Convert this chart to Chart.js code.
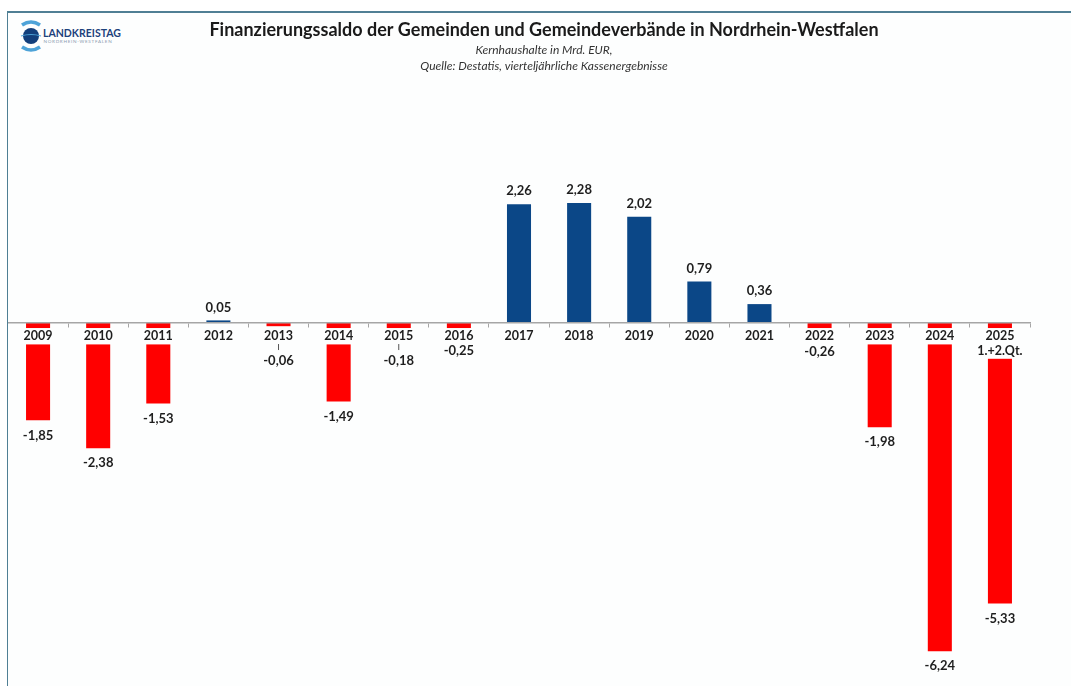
<!DOCTYPE html>
<html lang="de">
<head>
<meta charset="utf-8">
<title>Finanzierungssaldo NRW</title>
<script src="https://cdn.jsdelivr.net/npm/chart.js@4/dist/chart.umd.min.js"></script>
<style>
  html, body { margin: 0; padding: 0; background: #fff; overflow: hidden; width: 1071px; height: 686px; }
  .frame { position: absolute; left: 7px; top: 11px; width: 1100px; height: 700px;
           border-top: 2px solid #4f7f94; border-left: 1.5px solid #4f7f94; background: #fdfefe; }
  .wrap { position: absolute; left: 8px; top: 12px; width: 1072px; height: 674px; }
  .logo { position: absolute; left: 18px; top: 19px; }
</style>
</head>
<body>
<div class="frame"></div>
<svg class="logo" width="112" height="34" viewBox="0 0 112 34">
  <path d="M4 6 Q13 0 22 6" stroke="#4ea3d8" stroke-width="3.5" fill="none"/>
  <circle cx="13" cy="17" r="8" fill="#123f7c"/>
  <path d="M3 17 Q13 14 23 17" stroke="#4ea3d8" stroke-width="1.2" fill="none"/>
  <path d="M4 28 Q13 34 22 28" stroke="#4ea3d8" stroke-width="3.5" fill="none"/>
  <text x="25" y="18" font-family="Lato, 'Liberation Sans', sans-serif" font-weight="bold" font-size="10.5" fill="#1d427c">LANDKREISTAG</text>
  <text x="25.5" y="24" font-family="Lato, 'Liberation Sans', sans-serif" font-size="4.6" letter-spacing="0.7" fill="#8a9ab0">NORDRHEIN-WESTFALEN</text>
</svg>
<div class="wrap"><canvas id="chart"></canvas></div>
<script>
  // ── Data ───────────────────────────────────────────────
  const years = ['2009', '2010', '2011', '2012', '2013', '2014', '2015', '2016', '2017',
                 '2018', '2019', '2020', '2021', '2022', '2023', '2024', ['2025', '1.+2.Qt.']];
  const saldo = [-1.85, -2.38, -1.53, 0.05, -0.06, -1.49, -0.18, -0.25, 2.26,
                 2.28, 2.02, 0.79, 0.36, -0.26, -1.98, -6.24, -5.33];
  const yMin = -6.9;
  const yMax = 4.24;

  const RED = '#ff0000';
  const BLUE = '#0b4787';
  const FONT = 'Lato, "Liberation Sans", sans-serif';
  const TICK_SIZE = 12.5;
  const TICK_LH = 1.15;
  const TICK_LEN = 4;
  const TICK_PAD = 2;

  // ── White gaps behind the year labels (bars pass under them) ──
  const labelGaps = {
    id: 'labelGaps',
    afterDatasetsDraw(chart) {
      const ctx = chart.ctx;
      const xs = chart.scales.x;
      const zero = chart.scales.y.getPixelForValue(0);
      const lh = TICK_SIZE * TICK_LH;
      ctx.save();
      ctx.font = 'bold ' + TICK_SIZE + 'px ' + FONT;
      ctx.fillStyle = '#fdfefe';
      years.forEach((lbl, i) => {
        const lines = Array.isArray(lbl) ? lbl : [lbl];
        const w = Math.max(...lines.map(l => ctx.measureText(l).width)) + 6;
        const top = zero + TICK_LEN + TICK_PAD - 1;
        ctx.fillRect(xs.getPixelForTick(i) - w / 2, top, w, lines.length * lh + 2);
      });
      ctx.restore();
    }
  };

  // ── Value labels (German decimal comma) ────────────────────
  const valueLabels = {
    id: 'valueLabels',
    afterDraw(chart) {
      const ctx = chart.ctx;
      const meta = chart.getDatasetMeta(0);
      const zero = chart.scales.y.getPixelForValue(0);
      ctx.save();
      ctx.font = 'bold 13px ' + FONT;
      ctx.fillStyle = '#1e1e1e';
      ctx.textAlign = 'center';
      ctx.textBaseline = 'middle';
      meta.data.forEach((bar, i) => {
        const v = saldo[i];
        const txt = v.toFixed(2).replace('.', ',');
        let y;
        if (v >= 0) {
          y = bar.y - 13;
        } else if (Math.abs(v) < 0.2) {
          // tiny bars: label pushed below the year with a short leader
          y = zero + 38;
          ctx.strokeStyle = '#555';
          ctx.lineWidth = 1;
          ctx.beginPath();
          ctx.moveTo(bar.x, zero + 21);
          ctx.lineTo(bar.x, zero + 27);
          ctx.stroke();
        } else {
          y = Math.max(bar.y + 15, zero + 26);
        }
        ctx.fillText(txt, bar.x, y);
      });
      ctx.restore();
    }
  };

  new Chart(document.getElementById('chart'), {
    type: 'bar',
    data: {
      labels: years,
      datasets: [{
        data: saldo,
        backgroundColor: c => (c.raw < 0 ? RED : BLUE),
        borderWidth: 0,
        categoryPercentage: 1,
        barPercentage: 0.4
      }]
    },
    options: {
      responsive: true,
      maintainAspectRatio: false,
      animation: false,
      layout: { padding: 0 },
      plugins: {
        legend: { display: false },
        tooltip: { enabled: false },
        title: {
          display: true,
          text: 'Finanzierungssaldo der Gemeinden und Gemeindeverbände in Nordrhein-Westfalen',
          color: '#1a1a1a',
          font: { family: FONT, size: 18, weight: 'bold', lineHeight: 1.2 },
          padding: { top: 7.2, bottom: 2 }
        },
        subtitle: {
          display: true,
          text: ['Kernhaushalte in Mrd. EUR,', 'Quelle: Destatis, vierteljährliche Kassenergebnisse'],
          color: '#333',
          font: { family: FONT, size: 12, style: 'italic', lineHeight: 1.3 },
          padding: { top: 0, bottom: 26 }
        }
      },
      scales: {
        x: {
          position: { y: 0 },
          offset: true,
          grid: { display: true, drawOnChartArea: false, drawTicks: true, tickLength: TICK_LEN,
                  offset: true, color: '#a6a6a6', lineWidth: 1, z: 1 },
          border: { display: true, color: '#a6a6a6', width: 1.5, z: 1 },
          ticks: {
            z: 1,
            color: '#1e1e1e',
            font: { family: FONT, size: TICK_SIZE, weight: 'bold', lineHeight: TICK_LH },
            padding: TICK_PAD,
            maxRotation: 0,
            autoSkip: false
          }
        },
        y: {
          display: false,
          min: yMin,
          max: yMax
        },
        // empty right-hand strip, keeps the title centred on the full frame
        yRight: {
          type: 'linear',
          position: 'right',
          grid: { display: false },
          border: { display: false },
          ticks: { display: false },
          afterFit(s) { s.width = 50; }
        }
      }
    },
    plugins: [labelGaps, valueLabels]
  });
</script>
</body>
</html>
